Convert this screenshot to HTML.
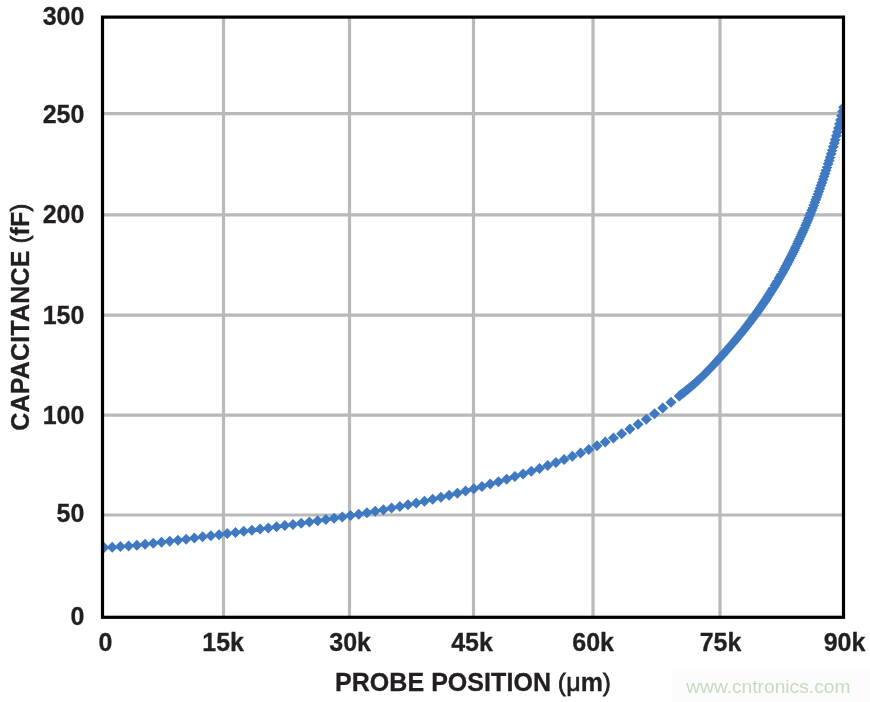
<!DOCTYPE html>
<html><head><meta charset="utf-8"><style>html,body{margin:0;padding:0;background:#fff;width:870px;height:702px;overflow:hidden}svg{display:block;will-change:transform}</style></head>
<body><svg width="870" height="702" viewBox="0 0 870 702"><rect x="0" y="0" width="870" height="702" fill="#fff"/><path d="M223.5 17.1V617.3M349.5 17.1V617.3M473.5 17.1V617.3M593.0 17.1V617.3M720.0 17.1V617.3M102.5 113.6H843.5M102.5 214.9H843.5M102.5 315.2H843.5M102.5 415.1H843.5M102.5 515.0H843.5" stroke="#b9b9bb" stroke-width="3.2" fill="none"/><defs><clipPath id="pc"><rect x="103" y="17" width="741" height="600"/></clipPath></defs><path clip-path="url(#pc)" d="M104.00 542.06L109.50 547.56L104.00 553.06L98.50 547.56ZM112.22 541.63L117.72 547.13L112.22 552.63L106.72 547.13ZM120.43 541.08L125.93 546.58L120.43 552.08L114.93 546.58ZM128.65 540.41L134.15 545.91L128.65 551.41L123.15 545.91ZM136.87 539.64L142.37 545.14L136.87 550.64L131.37 545.14ZM145.09 538.79L150.59 544.29L145.09 549.79L139.59 544.29ZM153.30 537.86L158.80 543.36L153.30 548.86L147.80 543.36ZM161.52 536.87L167.02 542.37L161.52 547.87L156.02 542.37ZM169.74 535.83L175.24 541.33L169.74 546.83L164.24 541.33ZM177.95 534.74L183.45 540.24L177.95 545.74L172.45 540.24ZM186.17 533.63L191.67 539.13L186.17 544.63L180.67 539.13ZM194.39 532.50L199.89 538.00L194.39 543.50L188.89 538.00ZM202.60 531.37L208.10 536.87L202.60 542.37L197.10 536.87ZM210.82 530.25L216.32 535.75L210.82 541.25L205.32 535.75ZM219.04 529.13L224.54 534.63L219.04 540.13L213.54 534.63ZM227.25 528.02L232.75 533.52L227.25 539.02L221.75 533.52ZM235.47 526.90L240.97 532.40L235.47 537.90L229.97 532.40ZM243.69 525.79L249.19 531.29L243.69 536.79L238.19 531.29ZM251.91 524.67L257.41 530.17L251.91 535.67L246.41 530.17ZM260.12 523.54L265.62 529.04L260.12 534.54L254.62 529.04ZM268.34 522.41L273.84 527.91L268.34 533.41L262.84 527.91ZM276.56 521.26L282.06 526.76L276.56 532.26L271.06 526.76ZM284.77 520.10L290.27 525.60L284.77 531.10L279.27 525.60ZM292.99 518.93L298.49 524.43L292.99 529.93L287.49 524.43ZM301.21 517.74L306.71 523.24L301.21 528.74L295.71 523.24ZM309.43 516.52L314.93 522.02L309.43 527.52L303.93 522.02ZM317.64 515.29L323.14 520.79L317.64 526.29L312.14 520.79ZM325.86 514.02L331.36 519.52L325.86 525.02L320.36 519.52ZM334.08 512.73L339.58 518.23L334.08 523.73L328.58 518.23ZM342.29 511.40L347.79 516.90L342.29 522.40L336.79 516.90ZM350.51 510.04L356.01 515.54L350.51 521.04L345.01 515.54ZM358.73 508.63L364.23 514.13L358.73 519.63L353.23 514.13ZM366.94 507.19L372.44 512.69L366.94 518.19L361.44 512.69ZM375.16 505.70L380.66 511.20L375.16 516.70L369.66 511.20ZM383.38 504.16L388.88 509.66L383.38 515.16L377.88 509.66ZM391.60 502.58L397.10 508.08L391.60 513.58L386.10 508.08ZM399.81 500.93L405.31 506.43L399.81 511.93L394.31 506.43ZM408.03 499.23L413.53 504.73L408.03 510.23L402.53 504.73ZM416.25 497.46L421.75 502.96L416.25 508.46L410.75 502.96ZM424.46 495.63L429.96 501.13L424.46 506.63L418.96 501.13ZM432.68 493.73L438.18 499.23L432.68 504.73L427.18 499.23ZM440.90 491.77L446.40 497.27L440.90 502.77L435.40 497.27ZM449.11 489.74L454.61 495.24L449.11 500.74L443.61 495.24ZM457.33 487.64L462.83 493.14L457.33 498.64L451.83 493.14ZM465.55 485.48L471.05 490.98L465.55 496.48L460.05 490.98ZM473.77 483.26L479.27 488.76L473.77 494.26L468.27 488.76ZM481.98 480.96L487.48 486.46L481.98 491.96L476.48 486.46ZM490.20 478.60L495.70 484.10L490.20 489.60L484.70 484.10ZM498.42 476.17L503.92 481.67L498.42 487.17L492.92 481.67ZM506.63 473.67L512.13 479.17L506.63 484.67L501.13 479.17ZM514.85 471.10L520.35 476.60L514.85 482.10L509.35 476.60ZM523.07 468.46L528.57 473.96L523.07 479.46L517.57 473.96ZM531.28 465.74L536.78 471.24L531.28 476.74L525.78 471.24ZM539.50 462.93L545.00 468.43L539.50 473.93L534.00 468.43ZM547.72 460.05L553.22 465.55L547.72 471.05L542.22 465.55ZM555.93 457.08L561.43 462.58L555.93 468.08L550.43 462.58ZM564.15 454.00L569.65 459.50L564.15 465.00L558.65 459.50ZM572.37 450.81L577.87 456.31L572.37 461.81L566.87 456.31ZM580.59 447.48L586.09 452.98L580.59 458.48L575.09 452.98ZM588.80 444.00L594.30 449.50L588.80 455.00L583.30 449.50ZM597.02 440.35L602.52 445.85L597.02 451.35L591.52 445.85ZM605.24 436.50L610.74 442.00L605.24 447.50L599.74 442.00ZM613.45 432.44L618.95 437.94L613.45 443.44L607.95 437.94ZM621.67 428.16L627.17 433.66L621.67 439.16L616.17 433.66ZM629.89 423.61L635.39 429.11L629.89 434.61L624.39 429.11ZM638.11 418.79L643.61 424.29L638.11 429.79L632.61 424.29ZM646.32 413.67L651.82 419.17L646.32 424.67L640.82 419.17ZM654.54 408.26L660.04 413.76L654.54 419.26L649.04 413.76ZM662.76 402.59L668.26 408.09L662.76 413.59L657.26 408.09ZM670.97 396.68L676.47 402.18L670.97 407.68L665.47 402.18ZM679.19 390.62L684.59 396.02L679.19 401.42L673.79 396.02ZM680.22 389.84L685.62 395.24L680.22 400.64L674.82 395.24ZM681.24 389.05L686.64 394.45L681.24 399.85L675.84 394.45ZM682.27 388.25L687.67 393.65L682.27 399.05L676.87 393.65ZM683.30 387.45L688.70 392.85L683.30 398.25L677.90 392.85ZM684.33 386.65L689.73 392.05L684.33 397.45L678.93 392.05ZM685.35 385.83L690.75 391.23L685.35 396.63L679.95 391.23ZM686.38 385.01L691.78 390.41L686.38 395.81L680.98 390.41ZM687.41 384.18L692.81 389.58L687.41 394.98L682.01 389.58ZM688.43 383.35L693.83 388.75L688.43 394.15L683.03 388.75ZM689.46 382.50L694.86 387.90L689.46 393.30L684.06 387.90ZM690.49 381.65L695.89 387.05L690.49 392.45L685.09 387.05ZM691.52 380.79L696.92 386.19L691.52 391.59L686.12 386.19ZM692.54 379.91L697.94 385.31L692.54 390.71L687.14 385.31ZM693.57 379.03L698.97 384.43L693.57 389.83L688.17 384.43ZM694.60 378.13L700.00 383.53L694.60 388.93L689.20 383.53ZM695.62 377.22L701.02 382.62L695.62 388.02L690.22 382.62ZM696.65 376.30L702.05 381.70L696.65 387.10L691.25 381.70ZM697.68 375.37L703.08 380.77L697.68 386.17L692.28 380.77ZM698.71 374.43L704.11 379.83L698.71 385.23L693.31 379.83ZM699.73 373.47L705.13 378.87L699.73 384.27L694.33 378.87ZM700.76 372.49L706.16 377.89L700.76 383.29L695.36 377.89ZM701.79 371.50L707.19 376.90L701.79 382.30L696.39 376.90ZM702.81 370.50L708.21 375.90L702.81 381.30L697.41 375.90ZM703.84 369.48L709.24 374.88L703.84 380.28L698.44 374.88ZM704.87 368.46L710.27 373.86L704.87 379.26L699.47 373.86ZM705.90 367.42L711.30 372.82L705.90 378.22L700.50 372.82ZM706.92 366.37L712.32 371.77L706.92 377.17L701.52 371.77ZM707.95 365.31L713.35 370.71L707.95 376.11L702.55 370.71ZM708.98 364.24L714.38 369.64L708.98 375.04L703.58 369.64ZM710.00 363.16L715.40 368.56L710.00 373.96L704.60 368.56ZM711.03 362.07L716.43 367.47L711.03 372.87L705.63 367.47ZM712.06 360.98L717.46 366.38L712.06 371.78L706.66 366.38ZM713.09 359.88L718.49 365.28L713.09 370.68L707.69 365.28ZM714.11 358.77L719.51 364.17L714.11 369.57L708.71 364.17ZM715.14 357.65L720.54 363.05L715.14 368.45L709.74 363.05ZM716.17 356.54L721.57 361.94L716.17 367.34L710.77 361.94ZM717.19 355.41L722.59 360.81L717.19 366.21L711.79 360.81ZM718.22 354.28L723.62 359.68L718.22 365.08L712.82 359.68ZM719.25 353.15L724.65 358.55L719.25 363.95L713.85 358.55ZM720.28 352.02L725.68 357.42L720.28 362.82L714.88 357.42ZM721.30 350.88L726.70 356.28L721.30 361.68L715.90 356.28ZM722.33 349.73L727.73 355.13L722.33 360.53L716.93 355.13ZM723.36 348.58L728.76 353.98L723.36 359.38L717.96 353.98ZM724.38 347.43L729.78 352.83L724.38 358.23L718.98 352.83ZM725.41 346.27L730.81 351.67L725.41 357.07L720.01 351.67ZM726.44 345.11L731.84 350.51L726.44 355.91L721.04 350.51ZM727.46 343.94L732.86 349.34L727.46 354.74L722.06 349.34ZM728.49 342.76L733.89 348.16L728.49 353.56L723.09 348.16ZM729.52 341.58L734.92 346.98L729.52 352.38L724.12 346.98ZM730.55 340.39L735.95 345.79L730.55 351.19L725.15 345.79ZM731.57 339.20L736.97 344.60L731.57 350.00L726.17 344.60ZM732.60 338.00L738.00 343.40L732.60 348.80L727.20 343.40ZM733.63 336.79L739.03 342.19L733.63 347.59L728.23 342.19ZM734.65 335.58L740.05 340.98L734.65 346.38L729.25 340.98ZM735.68 334.36L741.08 339.76L735.68 345.16L730.28 339.76ZM736.71 333.13L742.11 338.53L736.71 343.93L731.31 338.53ZM737.74 331.90L743.14 337.30L737.74 342.70L732.34 337.30ZM738.76 330.65L744.16 336.05L738.76 341.45L733.36 336.05ZM739.79 329.40L745.19 334.80L739.79 340.20L734.39 334.80ZM740.82 328.14L746.22 333.54L740.82 338.94L735.42 333.54ZM741.84 326.87L747.24 332.27L741.84 337.67L736.44 332.27ZM742.87 325.60L748.27 331.00L742.87 336.40L737.47 331.00ZM743.90 324.31L749.30 329.71L743.90 335.11L738.50 329.71ZM744.93 323.02L750.33 328.42L744.93 333.82L739.53 328.42ZM745.95 321.71L751.35 327.11L745.95 332.51L740.55 327.11ZM746.98 320.40L752.38 325.80L746.98 331.20L741.58 325.80ZM748.01 319.07L753.41 324.47L748.01 329.87L742.61 324.47ZM749.03 317.74L754.43 323.14L749.03 328.54L743.63 323.14ZM750.06 316.40L755.46 321.80L750.06 327.20L744.66 321.80ZM751.09 315.04L756.49 320.44L751.09 325.84L745.69 320.44ZM752.12 313.68L757.52 319.08L752.12 324.48L746.72 319.08ZM753.14 312.30L758.54 317.70L753.14 323.10L747.74 317.70ZM754.17 310.91L759.57 316.31L754.17 321.71L748.77 316.31ZM755.20 309.51L760.60 314.91L755.20 320.31L749.80 314.91ZM756.22 308.10L761.62 313.50L756.22 318.90L750.82 313.50ZM757.25 306.68L762.65 312.08L757.25 317.48L751.85 312.08ZM758.28 305.24L763.68 310.64L758.28 316.04L752.88 310.64ZM759.31 303.79L764.71 309.19L759.31 314.59L753.91 309.19ZM760.33 302.33L765.73 307.73L760.33 313.13L754.93 307.73ZM761.36 300.85L766.76 306.25L761.36 311.65L755.96 306.25ZM762.39 299.36L767.79 304.76L762.39 310.16L756.99 304.76ZM763.41 297.86L768.81 303.26L763.41 308.66L758.01 303.26ZM764.44 296.34L769.84 301.74L764.44 307.14L759.04 301.74ZM765.47 294.81L770.87 300.21L765.47 305.61L760.07 300.21ZM766.50 293.27L771.90 298.67L766.50 304.07L761.10 298.67ZM767.52 291.71L772.92 297.11L767.52 302.51L762.12 297.11ZM768.55 290.13L773.95 295.53L768.55 300.93L763.15 295.53ZM769.58 288.54L774.98 293.94L769.58 299.34L764.18 293.94ZM770.60 286.93L776.00 292.33L770.60 297.73L765.20 292.33ZM771.63 285.31L777.03 290.71L771.63 296.11L766.23 290.71ZM772.66 283.67L778.06 289.07L772.66 294.47L767.26 289.07ZM773.69 282.01L779.09 287.41L773.69 292.81L768.29 287.41ZM774.71 280.33L780.11 285.73L774.71 291.13L769.31 285.73ZM775.74 278.64L781.14 284.04L775.74 289.44L770.34 284.04ZM776.77 276.93L782.17 282.33L776.77 287.73L771.37 282.33ZM777.79 275.20L783.19 280.60L777.79 286.00L772.39 280.60ZM778.82 273.46L784.22 278.86L778.82 284.26L773.42 278.86ZM779.85 271.69L785.25 277.09L779.85 282.49L774.45 277.09ZM780.88 269.90L786.28 275.30L780.88 280.70L775.48 275.30ZM781.90 268.10L787.30 273.50L781.90 278.90L776.50 273.50ZM782.93 266.27L788.33 271.67L782.93 277.07L777.53 271.67ZM783.96 264.43L789.36 269.83L783.96 275.23L778.56 269.83ZM784.98 262.56L790.38 267.96L784.98 273.36L779.58 267.96ZM786.01 260.67L791.41 266.07L786.01 271.47L780.61 266.07ZM787.04 258.76L792.44 264.16L787.04 269.56L781.64 264.16ZM788.07 256.83L793.47 262.23L788.07 267.63L782.67 262.23ZM789.09 254.87L794.49 260.27L789.09 265.67L783.69 260.27ZM790.12 252.89L795.52 258.29L790.12 263.69L784.72 258.29ZM791.15 250.89L796.55 256.29L791.15 261.69L785.75 256.29ZM792.17 248.86L797.57 254.26L792.17 259.66L786.77 254.26ZM793.20 246.81L798.60 252.21L793.20 257.61L787.80 252.21ZM794.23 244.74L799.63 250.14L794.23 255.54L788.83 250.14ZM795.26 242.63L800.66 248.03L795.26 253.43L789.86 248.03ZM796.28 240.51L801.68 245.91L796.28 251.31L790.88 245.91ZM797.31 238.35L802.71 243.75L797.31 249.15L791.91 243.75ZM798.34 236.17L803.74 241.57L798.34 246.97L792.94 241.57ZM799.36 233.96L804.76 239.36L799.36 244.76L793.96 239.36ZM800.39 231.72L805.79 237.12L800.39 242.52L794.99 237.12ZM801.42 229.46L806.82 234.86L801.42 240.26L796.02 234.86ZM802.45 227.16L807.85 232.56L802.45 237.96L797.05 232.56ZM803.47 224.84L808.87 230.24L803.47 235.64L798.07 230.24ZM804.50 222.48L809.90 227.88L804.50 233.28L799.10 227.88ZM805.53 220.10L810.93 225.50L805.53 230.90L800.13 225.50ZM806.55 217.68L811.95 223.08L806.55 228.48L801.15 223.08ZM807.58 215.23L812.98 220.63L807.58 226.03L802.18 220.63ZM808.61 212.75L814.01 218.15L808.61 223.55L803.21 218.15ZM809.63 210.23L815.03 215.63L809.63 221.03L804.23 215.63ZM810.66 207.68L816.06 213.08L810.66 218.48L805.26 213.08ZM811.69 205.10L817.09 210.50L811.69 215.90L806.29 210.50ZM812.72 202.48L818.12 207.88L812.72 213.28L807.32 207.88ZM813.74 199.83L819.14 205.23L813.74 210.63L808.34 205.23ZM814.77 197.14L820.17 202.54L814.77 207.94L809.37 202.54ZM815.80 194.41L821.20 199.81L815.80 205.21L810.40 199.81ZM816.82 191.65L822.22 197.05L816.82 202.45L811.42 197.05ZM817.85 188.84L823.25 194.24L817.85 199.64L812.45 194.24ZM818.88 186.00L824.28 191.40L818.88 196.80L813.48 191.40ZM819.91 183.12L825.31 188.52L819.91 193.92L814.51 188.52ZM820.93 180.19L826.33 185.59L820.93 190.99L815.53 185.59ZM821.96 177.23L827.36 182.63L821.96 188.03L816.56 182.63ZM822.99 174.22L828.39 179.62L822.99 185.02L817.59 179.62ZM824.01 171.17L829.41 176.57L824.01 181.97L818.61 176.57ZM825.04 168.08L830.44 173.48L825.04 178.88L819.64 173.48ZM826.07 164.94L831.47 170.34L826.07 175.74L820.67 170.34ZM827.10 161.75L832.50 167.15L827.10 172.55L821.70 167.15ZM828.12 158.50L833.52 163.90L828.12 169.30L822.72 163.90ZM829.15 155.20L834.55 160.60L829.15 166.00L823.75 160.60ZM830.18 151.85L835.58 157.25L830.18 162.65L824.78 157.25ZM831.20 148.43L836.60 153.83L831.20 159.23L825.80 153.83ZM832.23 144.95L837.63 150.35L832.23 155.75L826.83 150.35ZM833.26 141.41L838.66 146.81L833.26 152.21L827.86 146.81ZM834.29 137.80L839.69 143.20L834.29 148.60L828.89 143.20ZM835.31 134.12L840.71 139.52L835.31 144.92L829.91 139.52ZM836.34 130.37L841.74 135.77L836.34 141.17L830.94 135.77ZM837.37 126.55L842.77 131.95L837.37 137.35L831.97 131.95ZM838.39 122.65L843.79 128.05L838.39 133.45L832.99 128.05ZM839.42 118.67L844.82 124.07L839.42 129.47L834.02 124.07ZM840.45 114.60L845.85 120.00L840.45 125.40L835.05 120.00ZM841.48 110.46L846.88 115.86L841.48 121.26L836.08 115.86ZM842.50 106.22L847.90 111.62L842.50 117.02L837.10 111.62ZM843.53 101.89L848.93 107.29L843.53 112.69L838.13 107.29Z" fill="#3e79c2"/><rect x="102.5" y="17.1" width="741.0" height="600.1999999999999" fill="none" stroke="#000" stroke-width="3.2"/><g font-family="Liberation Sans, sans-serif" font-weight="bold" font-size="25" fill="#231f20" stroke="#231f20" stroke-width="0.3"><text x="84.4" y="24.65" text-anchor="end">300</text><text x="84.4" y="123.10" text-anchor="end">250</text><text x="84.4" y="223.10" text-anchor="end">200</text><text x="84.4" y="324.30" text-anchor="end">150</text><text x="84.4" y="423.80" text-anchor="end">100</text><text x="84.4" y="522.10" text-anchor="end">50</text><text x="84.4" y="624.50" text-anchor="end">0</text><text x="105.4" y="650.8" text-anchor="middle">0</text><text x="223.1" y="650.8" text-anchor="middle">15k</text><text x="350.1" y="650.8" text-anchor="middle">30k</text><text x="472.0" y="650.8" text-anchor="middle">45k</text><text x="593.1" y="650.8" text-anchor="middle">60k</text><text x="720.5" y="650.8" text-anchor="middle">75k</text><text x="844.5" y="650.8" text-anchor="middle">90k</text><text x="335.0" y="691.1" letter-spacing="0.05">PROBE POSITION <tspan font-weight="normal" stroke-width="0.8" font-size="23" dy="-0.3">(</tspan><tspan font-weight="normal" stroke-width="0.7" dy="0.3" dx="0.5">μ</tspan>m<tspan font-weight="normal" stroke-width="0.8" font-size="23" dy="-0.3">)</tspan></text><text transform="translate(28.6 317.2) rotate(-90)" text-anchor="middle" letter-spacing="0.18">CAPACITANCE <tspan font-weight="normal" stroke-width="0.8" font-size="23" dy="-0.3">(</tspan><tspan dy="0.3">fF</tspan><tspan font-weight="normal" stroke-width="0.8" font-size="23" dy="-0.3">)</tspan></text></g><rect x="672" y="671" width="198" height="31" fill="#fcfcfc"/><text x="768.3" y="692.5" text-anchor="middle" font-family="Liberation Sans, sans-serif" font-size="19.2" fill="#c6dbbf">www.cntronics.com</text></svg></body></html>
